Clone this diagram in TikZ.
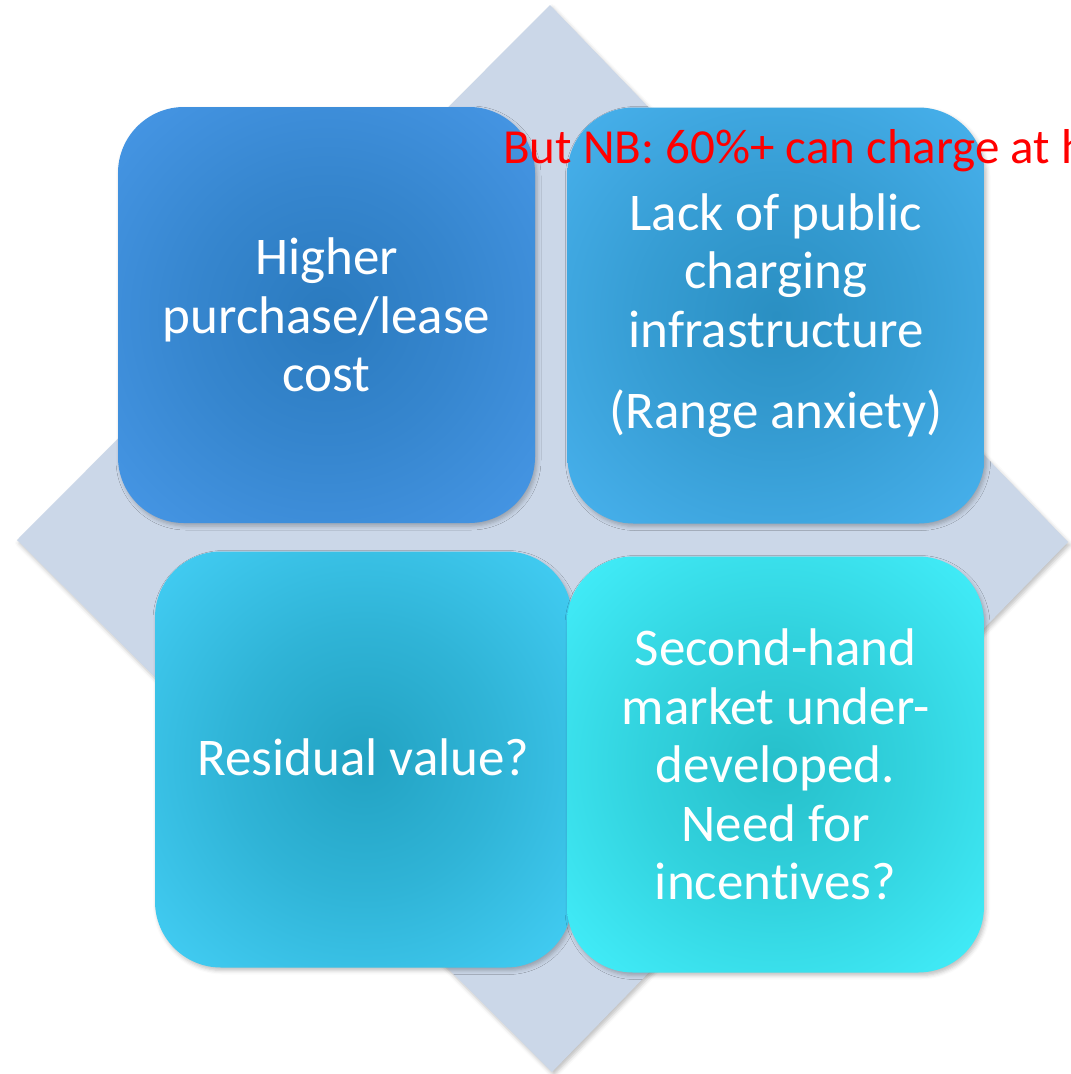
\documentclass[tikz,border=0pt]{standalone}
\usepackage{fontspec}
\setmainfont{Carlito}[Ligatures=NoCommon, RawFeature={-calt}]
\usetikzlibrary{shadows.blur}

\definecolor{diamondfill}{HTML}{CBD7E8}
\definecolor{tlout}{HTML}{4494E2}
\definecolor{tlin}{HTML}{2A7ABE}
\definecolor{trout}{HTML}{45AEE9}
\definecolor{trin}{HTML}{2A8FC2}
\definecolor{blout}{HTML}{40CAF0}
\definecolor{blin}{HTML}{22A2C2}
\definecolor{brout}{HTML}{40EAF6}
\definecolor{brin}{HTML}{26BFCA}
\definecolor{notered}{HTML}{FF0000}

% soft radial glows: dark centre fading to a lighter rim
\pgfdeclareradialshading{tlglow}{\pgfpoint{0bp}{0bp}}{color(0bp)=(tlin); color(16bp)=(tlin!55!tlout); color(32bp)=(tlout); color(50bp)=(tlout)}
\pgfdeclareradialshading{trglow}{\pgfpoint{0bp}{0bp}}{color(0bp)=(trin); color(16bp)=(trin!55!trout); color(32bp)=(trout); color(50bp)=(trout)}
\pgfdeclareradialshading{blglow}{\pgfpoint{0bp}{0bp}}{color(0bp)=(blin); color(16bp)=(blin!55!blout); color(32bp)=(blout); color(50bp)=(blout)}
\pgfdeclareradialshading{brglow}{\pgfpoint{0bp}{0bp}}{color(0bp)=(brin); color(16bp)=(brin!55!brout); color(32bp)=(brout); color(50bp)=(brout)}

\begin{document}
\begin{tikzpicture}[x=1pt, y=-1pt,
  softshadow/.style={blur shadow={shadow xshift=2pt, shadow yshift=-3pt,
      shadow blur radius=4pt, shadow opacity=25}},
  card/.style={softshadow, rounded corners=66pt,
      minimum width=417pt, minimum height=416pt, inner sep=0pt,
      text=white, align=center, font=\fontsize{53}{58.5}\selectfont},
  notetext/.style={text=notered, inner sep=0pt, anchor=base west,
      font=\fontsize{49}{58}\selectfont}]
\useasboundingbox (0,0) rectangle (1071,1074);

% background diamond
\fill[diamondfill, softshadow] (550,5) -- (1068,542) -- (552,1072) -- (17,540) -- cycle;

% four cards
\node[card, shading=tlglow] (cost) at (326.5,315)
  {Higher\\purchase/lease\\cost};
\node[card, shading=trglow] (charging) at (776,315.5)
  {Lack of public\\charging\\infrastructure\\[23pt](Range anxiety)};
\node[card, shading=blglow] (residual) at (363.5,759.5)
  {\raisebox{5pt}{Residual value?}};
\node[card, shading=brglow] (market) at (775.5,764.5)
  {Second-hand\\market under-\\developed.\\Need for\\incentives?};

% red remark running off the right edge
\begin{scope}
  \clip (0,0) rectangle (1071,1074);
  \node[notetext] (remark) at (503,163) {But NB: 60\%+ can charge at h};
\end{scope}
\end{tikzpicture}
\end{document}
